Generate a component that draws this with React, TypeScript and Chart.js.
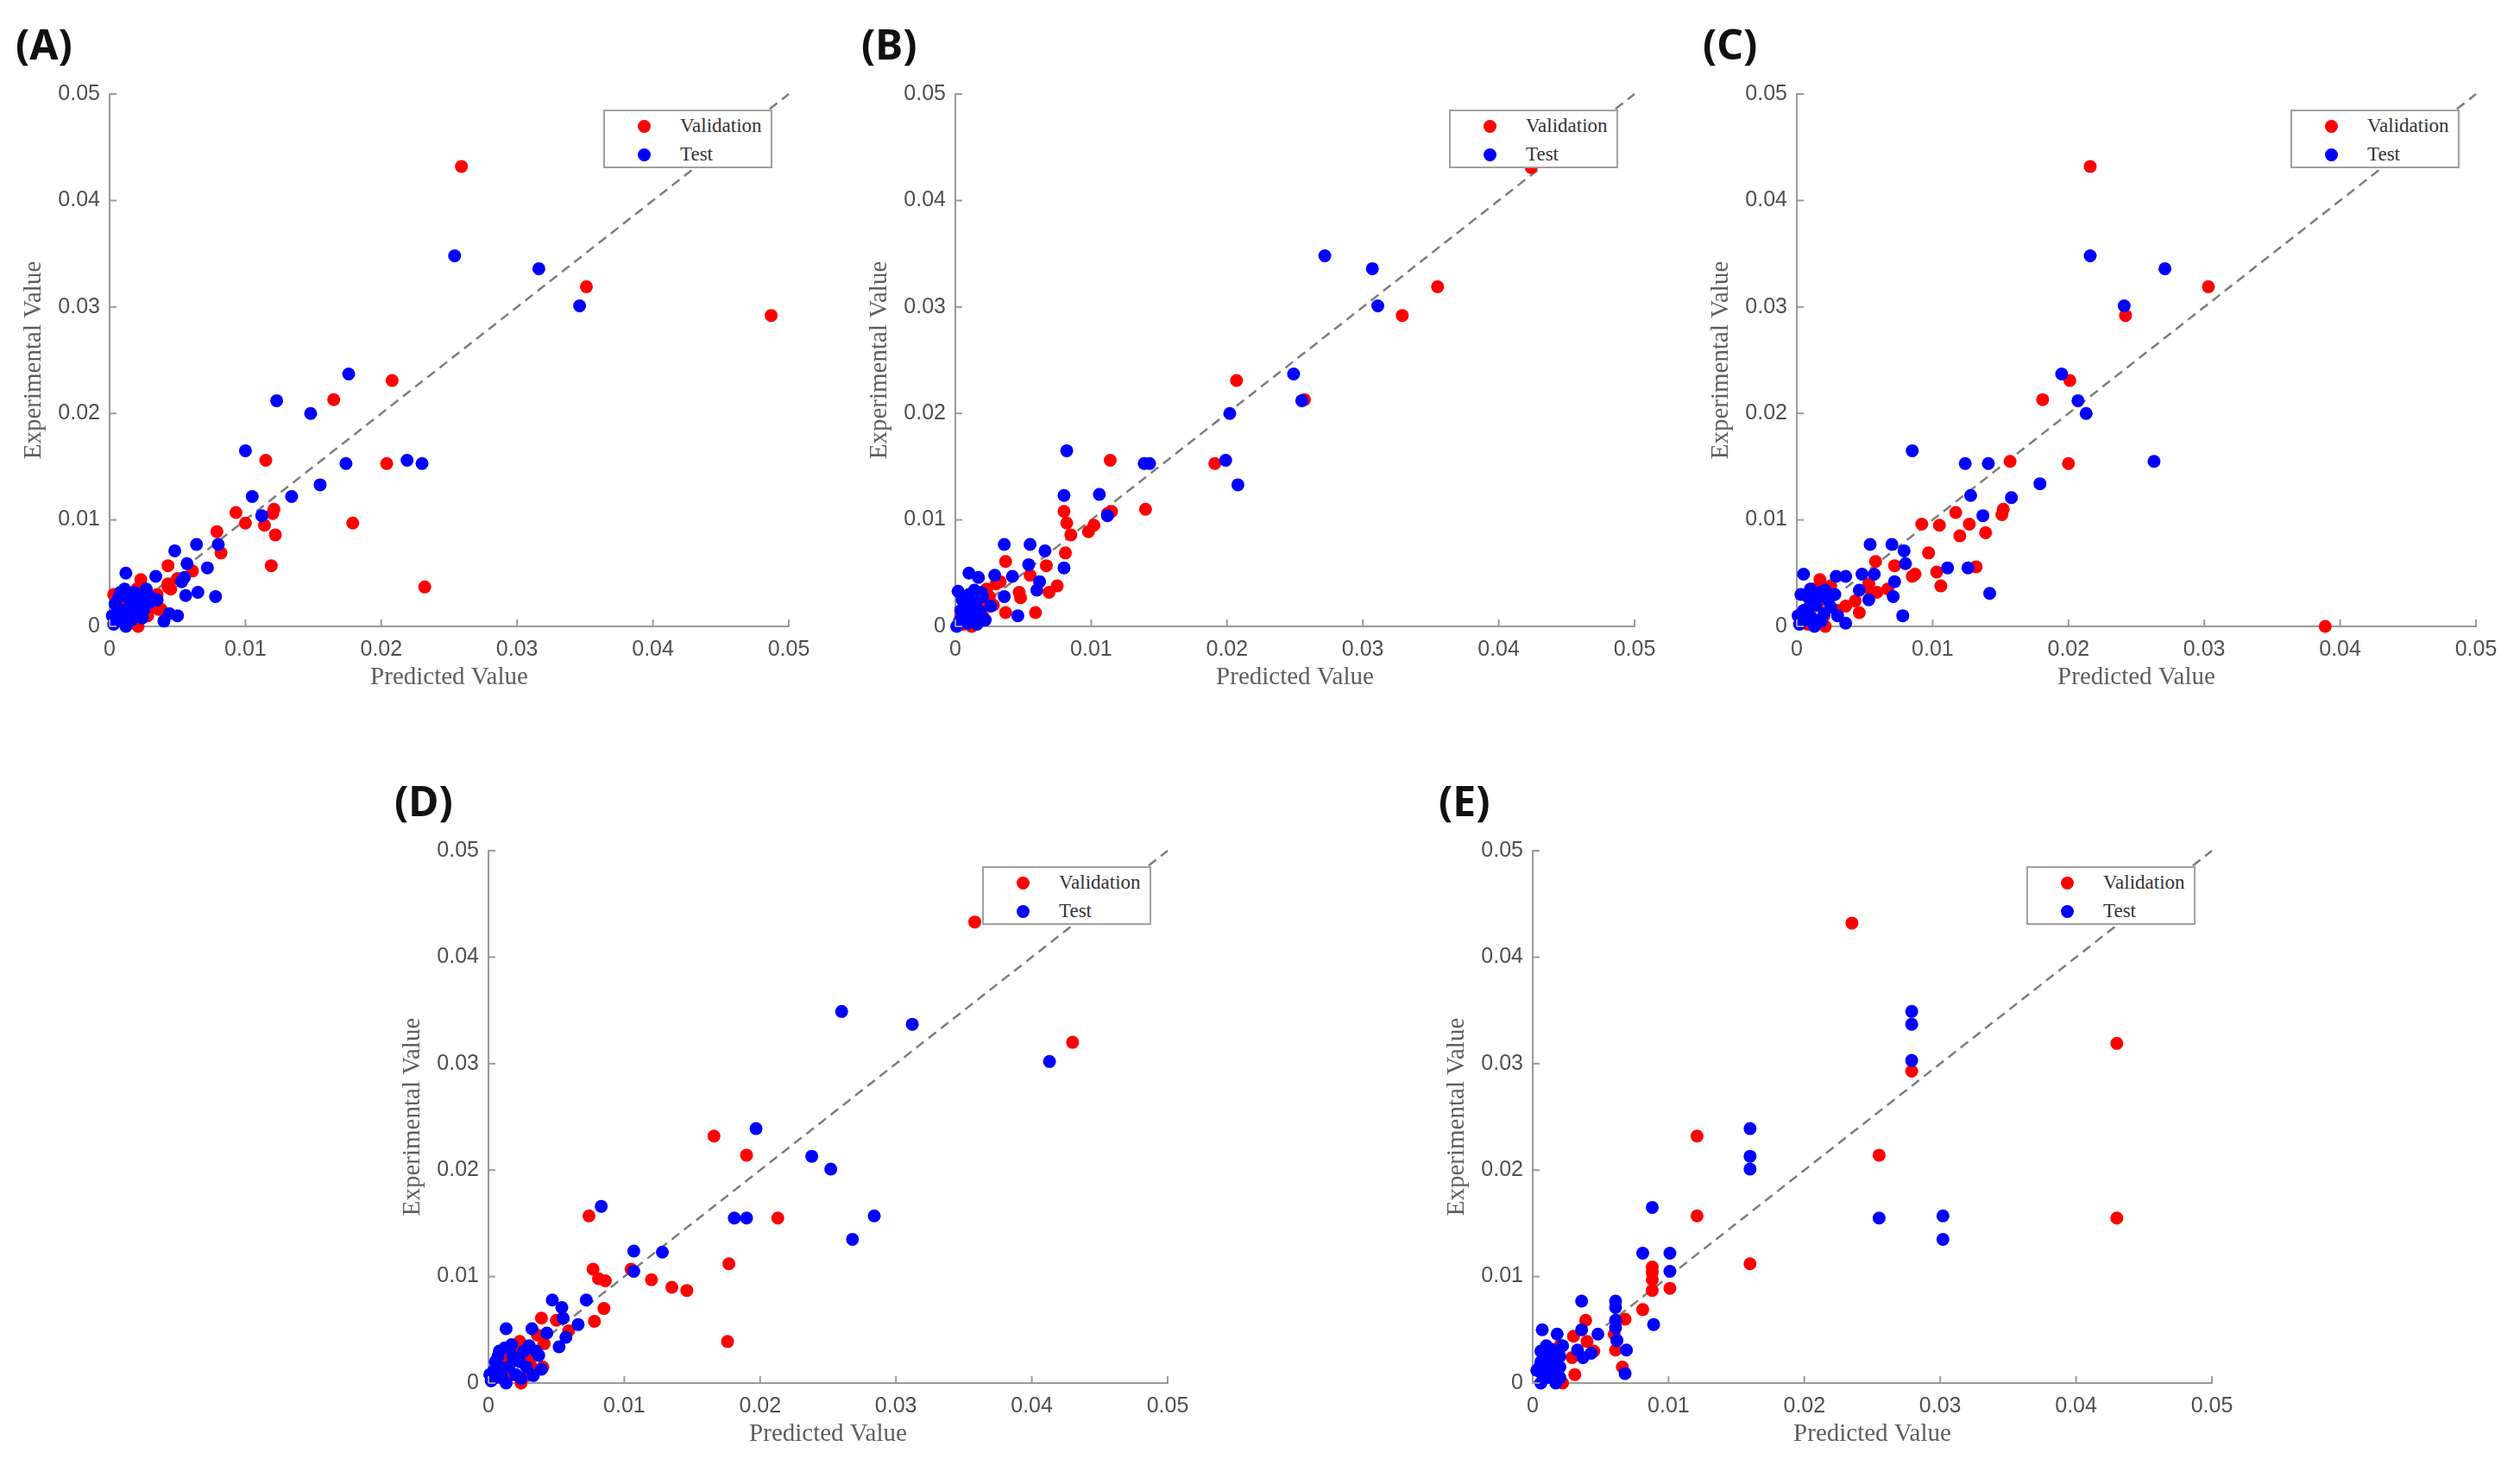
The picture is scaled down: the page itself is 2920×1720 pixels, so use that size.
import { useEffect, useRef } from 'react'
import { Chart, registerables } from 'chart.js'
Chart.register(...registerables)

type Pt = [number, number]

// shared axis ticks (both axes, every panel)
const axisTicks = [0, 0.01, 0.02, 0.03, 0.04, 0.05]

// (A)
const validationA: Pt[] = [
    [0.0259, 0.0432], [0.0351, 0.0319], [0.0487, 0.0292], [0.0208, 0.0231], [0.0165, 0.0213], [0.0115, 0.0156],
    [0.0204, 0.0153], [0.0179, 0.0097], [0.0232, 0.0037], [0.0093, 0.0107], [0.0100, 0.0097], [0.0114, 0.0095],
    [0.0121, 0.0110], [0.0120, 0.0106], [0.0122, 0.0086], [0.0119, 0.0057], [0.0079, 0.0089], [0.0082, 0.0069],
    [0.0043, 0.0057], [0.0061, 0.0052], [0.0023, 0.0044], [0.0043, 0.0040], [0.0038, 0.0016], [0.0034, 0.0022],
    [0.0003, 0.0030], [0.0021, 0.0000], [0.0019, 0.0003], [0.0043, 0.0037], [0.0036, 0.0016],
    [0.0015, 0.0012], [0.0025, 0.0025], [0.0030, 0.0018], [0.0010, 0.0022], [0.0020, 0.0035], [0.0028, 0.0010],
    [0.0005, 0.0008], [0.0045, 0.0035], [0.0050, 0.0045], [0.0035, 0.0030],
]
const testA: Pt[] = [
    [0.0254, 0.0348], [0.0316, 0.0336], [0.0346, 0.0301], [0.0176, 0.0237], [0.0123, 0.0212], [0.0148, 0.0200],
    [0.0100, 0.0165], [0.0174, 0.0153], [0.0219, 0.0156], [0.0230, 0.0153], [0.0155, 0.0133], [0.0105, 0.0122],
    [0.0134, 0.0122], [0.0112, 0.0104], [0.0064, 0.0077], [0.0080, 0.0077], [0.0048, 0.0071], [0.0072, 0.0055],
    [0.0057, 0.0059], [0.0012, 0.0050], [0.0034, 0.0047], [0.0055, 0.0046], [0.0065, 0.0032], [0.0078, 0.0028],
    [0.0053, 0.0042], [0.0040, 0.0005], [0.0050, 0.0010], [0.0044, 0.0012], [0.0056, 0.0029], [0.0029, 0.0022],
    [0.0003, 0.0002], [0.0006, 0.0008], [0.0010, 0.0015], [0.0014, 0.0026], [0.0018, 0.0032], [0.0008, 0.0032],
    [0.0004, 0.0021], [0.0012, 0.0000], [0.0020, 0.0018], [0.0024, 0.0008], [0.0030, 0.0028], [0.0016, 0.0006],
    [0.0007, 0.0028], [0.0022, 0.0027], [0.0027, 0.0035], [0.0005, 0.0012], [0.0011, 0.0035], [0.0018, 0.0011],
    [0.0035, 0.0025], [0.0009, 0.0005], [0.0015, 0.0020], [0.0002, 0.0010], [0.0025, 0.0015], [0.0013, 0.0009],
]

// (B)
const validationB: Pt[] = [
    [0.0424, 0.0431], [0.0355, 0.0319], [0.0329, 0.0292], [0.0207, 0.0231], [0.0257, 0.0213], [0.0114, 0.0156],
    [0.0191, 0.0153], [0.0140, 0.0110], [0.0112, 0.0106], [0.0080, 0.0108], [0.0082, 0.0097], [0.0085, 0.0086],
    [0.0115, 0.0108], [0.0102, 0.0095], [0.0098, 0.0089], [0.0081, 0.0069], [0.0037, 0.0061], [0.0067, 0.0057],
    [0.0055, 0.0048], [0.0033, 0.0042], [0.0075, 0.0038], [0.0069, 0.0032], [0.0047, 0.0032], [0.0048, 0.0027],
    [0.0037, 0.0013], [0.0059, 0.0013], [0.0023, 0.0035],
    [0.0028, 0.0020], [0.0020, 0.0010], [0.0015, 0.0005], [0.0010, 0.0015], [0.0006, 0.0002], [0.0025, 0.0028],
    [0.0018, 0.0022], [0.0004, 0.0010], [0.0030, 0.0040], [0.0012, 0.0000],
]
const testB: Pt[] = [
    [0.0272, 0.0348], [0.0307, 0.0336], [0.0311, 0.0301], [0.0249, 0.0237], [0.0255, 0.0212], [0.0202, 0.0200],
    [0.0199, 0.0156], [0.0208, 0.0133], [0.0139, 0.0153], [0.0143, 0.0153], [0.0082, 0.0165], [0.0080, 0.0123],
    [0.0106, 0.0124], [0.0112, 0.0104], [0.0036, 0.0077], [0.0055, 0.0077], [0.0066, 0.0071], [0.0080, 0.0055],
    [0.0054, 0.0058], [0.0010, 0.0050], [0.0017, 0.0046], [0.0029, 0.0048], [0.0042, 0.0047], [0.0062, 0.0042],
    [0.0060, 0.0034], [0.0036, 0.0028], [0.0046, 0.0010], [0.0026, 0.0019],
    [0.0002, 0.0033], [0.0005, 0.0025], [0.0008, 0.0018], [0.0010, 0.0030], [0.0012, 0.0010], [0.0015, 0.0022],
    [0.0003, 0.0005], [0.0006, 0.0012], [0.0018, 0.0014], [0.0009, 0.0003], [0.0014, 0.0034], [0.0020, 0.0028],
    [0.0004, 0.0015], [0.0011, 0.0007], [0.0016, 0.0002], [0.0007, 0.0022], [0.0001, 0.0000], [0.0022, 0.0006],
    [0.0013, 0.0017], [0.0019, 0.0032],
]

// (C)
const validationC: Pt[] = [
    [0.0216, 0.0432], [0.0303, 0.0319], [0.0242, 0.0292], [0.0201, 0.0231], [0.0181, 0.0213], [0.0200, 0.0153],
    [0.0157, 0.0155], [0.0389, 0.0000], [0.0152, 0.0110], [0.0151, 0.0105], [0.0139, 0.0088], [0.0132, 0.0056],
    [0.0117, 0.0107], [0.0127, 0.0096], [0.0120, 0.0085], [0.0092, 0.0096], [0.0105, 0.0095], [0.0097, 0.0069],
    [0.0103, 0.0051], [0.0106, 0.0038], [0.0085, 0.0047], [0.0087, 0.0049], [0.0072, 0.0057], [0.0058, 0.0061],
    [0.0017, 0.0044], [0.0025, 0.0038], [0.0053, 0.0040], [0.0059, 0.0032], [0.0043, 0.0024], [0.0046, 0.0013],
    [0.0036, 0.0019], [0.0021, 0.0000], [0.0055, 0.0032], [0.0067, 0.0035],
    [0.0010, 0.0030], [0.0015, 0.0020], [0.0020, 0.0010], [0.0005, 0.0010], [0.0025, 0.0028], [0.0008, 0.0002],
    [0.0030, 0.0015], [0.0012, 0.0035],
]
const testC: Pt[] = [
    [0.0216, 0.0348], [0.0271, 0.0336], [0.0241, 0.0301], [0.0195, 0.0237], [0.0207, 0.0212], [0.0213, 0.0200],
    [0.0263, 0.0155], [0.0124, 0.0153], [0.0141, 0.0153], [0.0085, 0.0165], [0.0179, 0.0134], [0.0158, 0.0121],
    [0.0128, 0.0123], [0.0137, 0.0104], [0.0142, 0.0031], [0.0054, 0.0077], [0.0070, 0.0077], [0.0079, 0.0071],
    [0.0080, 0.0059], [0.0111, 0.0055], [0.0126, 0.0055], [0.0005, 0.0049], [0.0029, 0.0047], [0.0036, 0.0047],
    [0.0048, 0.0049], [0.0057, 0.0049], [0.0046, 0.0034], [0.0072, 0.0042], [0.0071, 0.0028], [0.0053, 0.0025],
    [0.0078, 0.0010], [0.0036, 0.0003],
    [0.0002, 0.0002], [0.0005, 0.0015], [0.0008, 0.0028], [0.0011, 0.0008], [0.0014, 0.0020], [0.0017, 0.0032],
    [0.0020, 0.0012], [0.0023, 0.0025], [0.0003, 0.0030], [0.0009, 0.0018], [0.0013, 0.0000], [0.0018, 0.0005],
    [0.0025, 0.0018], [0.0006, 0.0006], [0.0021, 0.0034], [0.0028, 0.0030], [0.0015, 0.0027], [0.0030, 0.0010],
    [0.0001, 0.0010], [0.0010, 0.0035],
]

// (D)
const validationD: Pt[] = [
    [0.0358, 0.0433], [0.0430, 0.0320], [0.0166, 0.0232], [0.0190, 0.0214], [0.0213, 0.0155], [0.0074, 0.0157],
    [0.0177, 0.0112], [0.0176, 0.0039], [0.0120, 0.0097], [0.0135, 0.0090], [0.0146, 0.0087], [0.0105, 0.0107],
    [0.0077, 0.0107], [0.0081, 0.0098], [0.0086, 0.0096], [0.0085, 0.0070], [0.0078, 0.0058], [0.0039, 0.0061],
    [0.0050, 0.0059], [0.0059, 0.0049], [0.0023, 0.0039], [0.0036, 0.0045], [0.0041, 0.0037], [0.0031, 0.0017],
    [0.0040, 0.0015], [0.0024, 0.0000], [0.0028, 0.0007],
    [0.0015, 0.0020], [0.0010, 0.0010], [0.0020, 0.0030], [0.0030, 0.0025], [0.0005, 0.0005], [0.0018, 0.0008],
    [0.0026, 0.0035], [0.0012, 0.0028],
]
const testD: Pt[] = [
    [0.0260, 0.0349], [0.0312, 0.0337], [0.0413, 0.0302], [0.0197, 0.0239], [0.0238, 0.0213], [0.0252, 0.0201],
    [0.0284, 0.0157], [0.0268, 0.0135], [0.0181, 0.0155], [0.0190, 0.0155], [0.0083, 0.0166], [0.0107, 0.0124],
    [0.0128, 0.0123], [0.0107, 0.0105], [0.0072, 0.0078], [0.0047, 0.0078], [0.0054, 0.0071], [0.0066, 0.0055],
    [0.0055, 0.0061], [0.0013, 0.0051], [0.0032, 0.0051], [0.0043, 0.0047], [0.0057, 0.0043], [0.0052, 0.0034],
    [0.0037, 0.0026], [0.0033, 0.0007], [0.0039, 0.0013],
    [0.0002, 0.0002], [0.0004, 0.0012], [0.0007, 0.0025], [0.0010, 0.0005], [0.0012, 0.0033], [0.0015, 0.0015],
    [0.0018, 0.0025], [0.0020, 0.0008], [0.0023, 0.0020], [0.0026, 0.0030], [0.0028, 0.0015], [0.0005, 0.0020],
    [0.0009, 0.0015], [0.0013, 0.0000], [0.0017, 0.0036], [0.0030, 0.0035], [0.0035, 0.0030], [0.0001, 0.0008],
    [0.0008, 0.0030], [0.0024, 0.0004],
]

// (E)
const validationE: Pt[] = [
    [0.0235, 0.0432], [0.0430, 0.0319], [0.0279, 0.0293], [0.0255, 0.0214], [0.0121, 0.0232], [0.0121, 0.0157],
    [0.0160, 0.0112], [0.0430, 0.0155], [0.0088, 0.0109], [0.0088, 0.0104], [0.0088, 0.0097], [0.0088, 0.0087],
    [0.0101, 0.0089], [0.0081, 0.0069], [0.0039, 0.0059], [0.0068, 0.0060], [0.0030, 0.0044], [0.0040, 0.0039],
    [0.0045, 0.0030], [0.0029, 0.0024], [0.0060, 0.0046], [0.0061, 0.0031], [0.0066, 0.0015], [0.0031, 0.0008],
    [0.0022, 0.0000],
    [0.0008, 0.0005], [0.0015, 0.0020], [0.0018, 0.0010], [0.0010, 0.0030], [0.0020, 0.0035], [0.0005, 0.0015],
]
const testE: Pt[] = [
    [0.0279, 0.0349], [0.0279, 0.0337], [0.0279, 0.0303], [0.0160, 0.0239], [0.0160, 0.0213], [0.0160, 0.0201],
    [0.0255, 0.0155], [0.0302, 0.0157], [0.0302, 0.0135], [0.0088, 0.0165], [0.0081, 0.0122], [0.0101, 0.0122],
    [0.0101, 0.0105], [0.0036, 0.0077], [0.0061, 0.0077], [0.0061, 0.0071], [0.0061, 0.0059], [0.0061, 0.0052],
    [0.0089, 0.0055], [0.0007, 0.0050], [0.0018, 0.0046], [0.0036, 0.0050], [0.0048, 0.0046], [0.0062, 0.0040],
    [0.0069, 0.0031], [0.0043, 0.0028], [0.0033, 0.0031], [0.0037, 0.0024], [0.0068, 0.0009],
    [0.0006, 0.0000], [0.0006, 0.0010], [0.0006, 0.0020], [0.0006, 0.0030], [0.0010, 0.0005], [0.0010, 0.0015],
    [0.0010, 0.0025], [0.0010, 0.0035], [0.0017, 0.0000], [0.0017, 0.0010], [0.0017, 0.0020], [0.0017, 0.0030],
    [0.0020, 0.0005], [0.0020, 0.0015], [0.0020, 0.0025], [0.0013, 0.0032], [0.0003, 0.0012], [0.0022, 0.0035],
]

const RED = '#ff0000'
const BLUE = '#0000ff'
const AXIS = '#9a9a9a'
const SANS = '"Liberation Sans", Arial, sans-serif'
const SERIF = '"Liberation Serif", "Times New Roman", serif'

// panel box is 960x820, plot area sits at (127,109) and is 787x617
const BOX_W = 960, BOX_H = 820
const PLOT_L = 127, PLOT_T = 109, PLOT_R = 914, PLOT_B = 726

const panels = [
    { label: '(A)', left: 0, top: 0, val: validationA, test: testA },
    { label: '(B)', left: 980, top: 0, val: validationB, test: testB },
    { label: '(C)', left: 1955, top: 0, val: validationC, test: testC },
    { label: '(D)', left: 439, top: 877, val: validationD, test: testD },
    { label: '(E)', left: 1649, top: 877, val: validationE, test: testE },
]

// MATLAB-style inward tick marks
const inwardTicks = {
    id: 'inwardTicks',
    afterDatasetsDraw(chart: Chart) {
        const { ctx, scales } = chart
        const x = scales.x, y = scales.y
        ctx.save()
        ctx.strokeStyle = AXIS
        ctx.lineWidth = 2
        axisTicks.forEach(v => {
            const px = x.getPixelForValue(v)
            ctx.beginPath(); ctx.moveTo(px, y.bottom); ctx.lineTo(px, y.bottom - 8); ctx.stroke()
            const py = y.getPixelForValue(v)
            ctx.beginPath(); ctx.moveTo(x.left, py); ctx.lineTo(x.left + 8, py); ctx.stroke()
        })
        ctx.restore()
    },
}

function Panel({ label, left, top, val, test }: { label: string; left: number; top: number; val: Pt[]; test: Pt[] }) {
    const canvasRef = useRef<HTMLCanvasElement>(null)
    const chartRef = useRef<Chart | null>(null)

    useEffect(() => {
        if (!canvasRef.current) return
        chartRef.current?.destroy()
        const tickFont = { family: SANS, size: 25 }
        const titleFont = { family: SERIF, size: 29 }
        const fmt = (v: any) => (Number(v) === 0 ? '0' : Number(v).toFixed(2))
        chartRef.current = new Chart(canvasRef.current, {
            type: 'scatter',
            data: {
                datasets: [
                    {
                        label: 'Test',
                        data: test.map(([x, y]) => ({ x, y })),
                        backgroundColor: BLUE,
                        borderWidth: 0,
                        pointRadius: 7.5,
                        clip: false,
                        order: 0,
                    },
                    {
                        label: 'Validation',
                        data: val.map(([x, y]) => ({ x, y })),
                        backgroundColor: RED,
                        borderWidth: 0,
                        pointRadius: 7.5,
                        clip: false,
                        order: 1,
                    },
                    {
                        label: 'y = x',
                        data: [{ x: axisTicks[0], y: axisTicks[0] }, { x: axisTicks[5], y: axisTicks[5] }],
                        showLine: true,
                        pointRadius: 0,
                        borderColor: '#7d7d7d',
                        borderWidth: 2.5,
                        borderDash: [11, 7],
                        clip: false,
                        order: 2,
                    } as any,
                ],
            },
            options: {
                responsive: true, maintainAspectRatio: false, animation: false,
                layout: { padding: { top: PLOT_T, right: BOX_W - PLOT_R, left: 0, bottom: 0 } },
                plugins: { legend: { display: false }, tooltip: { enabled: false } },
                scales: {
                    x: {
                        type: 'linear', min: 0, max: 0.05,
                        afterFit: (s: any) => { s.height = BOX_H - PLOT_B },
                        afterBuildTicks: (s: any) => { s.ticks = axisTicks.map(v => ({ value: v })) },
                        ticks: { font: tickFont, color: '#4f4f4f', padding: 12, maxRotation: 0, callback: fmt },
                        grid: { drawOnChartArea: false, drawTicks: false },
                        border: { color: AXIS, width: 2 },
                        title: { display: true, text: 'Predicted Value', font: titleFont, color: '#5e5e5e', padding: { top: 0, bottom: 17 } },
                    },
                    y: {
                        type: 'linear', min: 0, max: 0.05,
                        afterFit: (s: any) => { s.width = PLOT_L },
                        afterBuildTicks: (s: any) => { s.ticks = axisTicks.map(v => ({ value: v })) },
                        ticks: { font: tickFont, color: '#4f4f4f', padding: 11, callback: fmt },
                        grid: { drawOnChartArea: false, drawTicks: false },
                        border: { color: AXIS, width: 2 },
                        title: { display: true, text: 'Experimental Value', font: titleFont, color: '#5e5e5e', padding: { top: 22, bottom: 0 } },
                    },
                },
            },
            plugins: [inwardTicks],
        })
        return () => chartRef.current?.destroy()
    }, [val, test])

    const legendRow = (color: string, text: string, y: number) => (
        <div style={{ position: 'absolute', left: 0, top: y - 14, height: 28, width: '100%' }}>
            <span style={{ position: 'absolute', left: 38, top: 7, width: 15, height: 15, borderRadius: 8, background: color }} />
            <span style={{ position: 'absolute', left: 87, top: 0, lineHeight: '28px', fontFamily: SERIF, fontSize: 23, color: '#333' }}>{text}</span>
        </div>
    )

    return (
        <div style={{ position: 'absolute', left, top, width: BOX_W, height: BOX_H }}>
            <canvas ref={canvasRef} />
            <div style={{ position: 'absolute', left: 18, top: 27, fontFamily: '"Noto Sans", "Open Sans", sans-serif', fontWeight: 700, fontSize: 48, lineHeight: 1, color: '#111' }}>
                {label}
            </div>
            <div style={{ position: 'absolute', left: PLOT_R - 215, top: PLOT_T + 18, width: 196, height: 68, boxSizing: 'border-box', border: '2px solid #a0a0a0', background: '#fff' }}>
                {legendRow(RED, 'Validation', 17)}
                {legendRow(BLUE, 'Test', 50)}
            </div>
        </div>
    )
}

export default function App() {
    return (
        <div style={{ position: 'absolute', left: 0, top: 0, width: 2920, height: 1720, background: '#fff', overflow: 'hidden' }}>
            {panels.map(p => <Panel key={p.label} {...p} />)}
        </div>
    )
}
